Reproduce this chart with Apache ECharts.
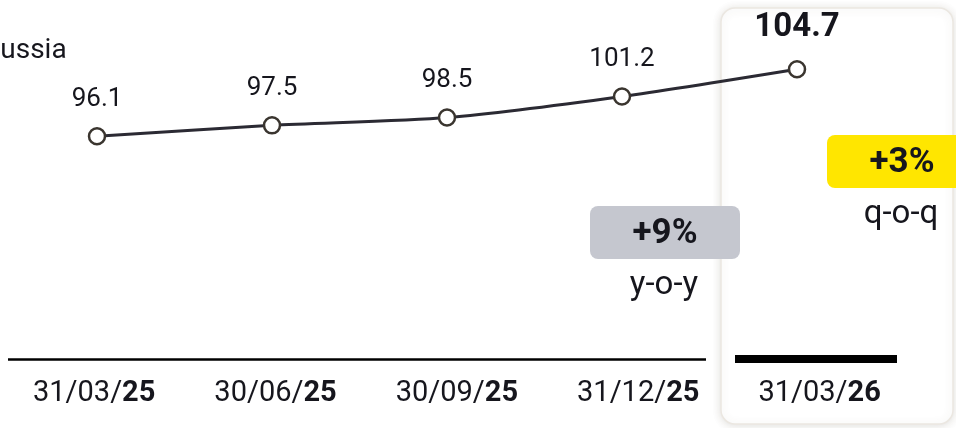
<!DOCTYPE html>
<html>
<head>
<meta charset="utf-8">
<script src="https://cdn.jsdelivr.net/npm/echarts@6/dist/echarts.min.js"></script>
<style>
html,body{margin:0;padding:0;background:#fff;}
#chart{width:956px;height:428px;}
</style>
</head>
<body>
<div id="chart"></div>
<script>
var categories = ['31/03/25', '30/06/25', '30/09/25', '31/12/25', '31/03/26'];
var dateDayMonth = ['31/03/', '30/06/', '30/09/', '31/12/', '31/03/'];
var dateYear = ['25', '25', '25', '25', '26'];
var values = [96.1, 97.5, 98.5, 101.2, 104.7];
var regionTitle = 'Russia';
var yoyLabel = '+9%';
var yoyText = 'y-o-y';
var qoqLabel = '+3%';
var qoqText = 'q-o-q';

var FONT = 'Roboto, "Noto Sans", sans-serif';
var TEXT = '#16161d';

var chart = echarts.init(document.getElementById('chart'), null, {renderer: 'canvas'});

var seriesData = values.map(function (v, i) {
  if (i === values.length - 1) {
    return {value: v, label: {fontSize: 33, fontWeight: 'bold', distance: 16}};
  }
  return v;
});

var option = {
  animation: false,
  backgroundColor: '#ffffff',
  grid: [
    {left: 9.5, width: 875, top: 28, height: 331},
    {left: 3.5, right: 45.7, top: 28, height: 331}
  ],
  xAxis: [
    {
      type: 'category', gridIndex: 0, data: categories, boundaryGap: true,
      axisLine: {show: false}, axisTick: {show: false}, axisLabel: {show: false}, splitLine: {show: false}
    },
    {
      type: 'category', gridIndex: 1, data: categories, boundaryGap: true,
      axisLine: {show: false}, axisTick: {show: false}, splitLine: {show: false},
      axisLabel: {
        show: true, interval: 0, margin: 19,
        formatter: function (val, idx) {
          return '{a|' + dateDayMonth[idx] + '}{b|' + dateYear[idx] + '}';
        },
        rich: {
          a: {fontFamily: FONT, fontSize: 29, color: TEXT, fontWeight: 'normal', lineHeight: 31},
          b: {fontFamily: FONT, fontSize: 29, color: TEXT, fontWeight: 'bold', lineHeight: 31}
        }
      }
    }
  ],
  yAxis: [
    {type: 'value', gridIndex: 0, min: 67.5, max: 110, show: false},
    {type: 'value', gridIndex: 1, min: 67.5, max: 110, show: false}
  ],
  graphic: [
    {
      type: 'rect', z: 0,
      shape: {x: 721, y: 8, width: 232, height: 416, r: 14},
      style: {fill: '#ffffff', stroke: '#ebe7e1', lineWidth: 1.5,
        shadowBlur: 8, shadowColor: 'rgba(80,70,50,0.16)', shadowOffsetX: 0, shadowOffsetY: 1}
    },
    {
      type: 'text', z: 1, x: -17, y: 51,
      style: {text: regionTitle, fontFamily: FONT, fontSize: 28, fill: TEXT,
        textAlign: 'left', textVerticalAlign: 'middle'}
    },
    {
      type: 'line', z: 1,
      shape: {x1: 8, y1: 359.5, x2: 706, y2: 359.5},
      style: {stroke: '#000', lineWidth: 2.5}
    },
    {
      type: 'line', z: 1,
      shape: {x1: 735, y1: 359, x2: 897, y2: 359},
      style: {stroke: '#000', lineWidth: 8}
    },
    {
      type: 'rect', z: 1,
      shape: {x: 590, y: 206, width: 150, height: 53, r: 8},
      style: {fill: '#c5c7cf'}
    },
    {
      type: 'text', z: 2, x: 665, y: 234,
      style: {text: yoyLabel, fontFamily: FONT, fontSize: 35, fontWeight: 'bold', fill: TEXT,
        textAlign: 'center', textVerticalAlign: 'middle'}
    },
    {
      type: 'text', z: 2, x: 664, y: 286,
      style: {text: yoyText, fontFamily: FONT, fontSize: 33, fill: TEXT,
        textAlign: 'center', textVerticalAlign: 'middle'}
    },
    {
      type: 'rect', z: 1,
      shape: {x: 827, y: 135, width: 150, height: 53, r: 8},
      style: {fill: '#ffe600'}
    },
    {
      type: 'text', z: 2, x: 902, y: 163,
      style: {text: qoqLabel, fontFamily: FONT, fontSize: 35, fontWeight: 'bold', fill: TEXT,
        textAlign: 'center', textVerticalAlign: 'middle'}
    },
    {
      type: 'text', z: 2, x: 901, y: 215,
      style: {text: qoqText, fontFamily: FONT, fontSize: 33, fill: TEXT,
        textAlign: 'center', textVerticalAlign: 'middle'}
    }
  ],
  series: [
    {
      type: 'line', xAxisIndex: 0, yAxisIndex: 0, z: 5,
      data: seriesData,
      smooth: 0.25,
      symbol: 'circle', symbolSize: 16,
      lineStyle: {color: '#2b2a33', width: 3},
      itemStyle: {color: '#ffffff', borderColor: '#3a352f', borderWidth: 2.5},
      label: {
        show: true, position: 'top', distance: 15,
        fontFamily: FONT, fontSize: 26, color: TEXT
      }
    },
    {
      type: 'line', xAxisIndex: 1, yAxisIndex: 1, data: [], silent: true
    }
  ]
};
chart.setOption(option);
</script>
</body>
</html>
